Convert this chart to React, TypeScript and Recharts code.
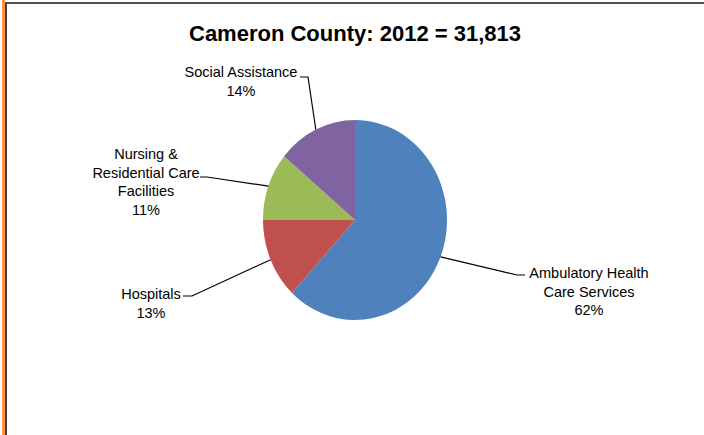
import React from 'react';
import { PieChart, Pie, Cell } from 'recharts';

const categories = [
  'Ambulatory Health\nCare Services',
  'Hospitals',
  'Nursing &\nResidential Care\nFacilities',
  'Social Assistance',
];
const shares = [62, 13, 11, 14];
const colors = ['#4F81BD', '#C0504D', '#9BBB59', '#8064A2'];

const data = categories.map((name, i) => ({ name, value: shares[i] }));

// label placement relative to pie centre: text centre / first line, elbow, tail end
const labelLayout = [
  { tx: 234, ty: 58, ex: 162, ey: 55, endX: 170 },
  { tx: -204, ty: 79, ex: -163, ey: 76, endX: -172 },
  { tx: -209, ty: -61, ex: -148, ey: -43, endX: -155 },
  { tx: -114, ty: -143, ex: -47, ey: -143, endX: -55 },
];

const RAD = Math.PI / 180;
const X_SQUASH = 0.92;
const FONT = '"Liberation Sans", Arial, sans-serif';

const EllipseSector = (props: any) => {
  const { cx, cy, outerRadius, startAngle, endAngle, fill } = props;
  const rx = outerRadius * X_SQUASH;
  const ry = outerRadius;
  const x1 = cx + rx * Math.cos(-startAngle * RAD);
  const y1 = cy + ry * Math.sin(-startAngle * RAD);
  const x2 = cx + rx * Math.cos(-endAngle * RAD);
  const y2 = cy + ry * Math.sin(-endAngle * RAD);
  const large = Math.abs(endAngle - startAngle) > 180 ? 1 : 0;
  const sweep = endAngle < startAngle ? 1 : 0;
  const d = `M${cx},${cy} L${x1},${y1} A${rx},${ry} 0 ${large} ${sweep} ${x2},${y2} Z`;
  return <path d={d} fill={fill} stroke="none" />;
};

const renderLabel = (props: any) => {
  const { cx, cy, midAngle, outerRadius, percent, index, name } = props;
  const lay = labelLayout[index];
  const px = cx + outerRadius * X_SQUASH * Math.cos(-midAngle * RAD);
  const py = cy + outerRadius * Math.sin(-midAngle * RAD);
  const lines = [...String(name).split('\n'), `${Math.round(percent * 100)}%`];
  return (
    <g>
      <polyline
        points={`${px},${py} ${cx + lay.ex},${cy + lay.ey} ${cx + lay.endX},${cy + lay.ey}`}
        fill="none"
        stroke="#000"
        strokeWidth={1.2}
      />
      <text textAnchor="middle" fontFamily={FONT} fontSize={14.5} fill="#000">
        {lines.map((l, i) => (
          <tspan key={i} x={cx + lay.tx} y={cy + lay.ty + i * 18.5}>
            {l}
          </tspan>
        ))}
      </text>
    </g>
  );
};

export default function App() {
  return (
    <div style={{ position: 'absolute', left: 0, top: 0, width: 704, height: 435, background: '#fff', overflow: 'hidden' }}>
      <div style={{ position: 'absolute', left: 2, top: 0, width: 3, height: 435, background: '#F79646' }} />
      <div style={{ position: 'absolute', left: 5, top: 2, width: 1.5, height: 433, background: '#404040' }} />
      <div style={{ position: 'absolute', left: 5, top: 2, width: 699, height: 1.5, background: '#505050' }} />
      <div
        style={{
          position: 'absolute',
          left: 0,
          top: 21,
          width: 710,
          height: 26,
          lineHeight: '26px',
          textAlign: 'center',
          fontFamily: FONT,
          fontWeight: 'bold',
          fontSize: 22,
          color: '#000',
        }}
      >
        Cameron County: 2012 = 31,813
      </div>
      <div style={{ position: 'absolute', left: 0, top: 0 }}>
        <PieChart width={704} height={435} margin={{ top: 0, right: 0, bottom: 0, left: 0 }}>
          <Pie
            data={data}
            dataKey="value"
            nameKey="name"
            cx={355}
            cy={220}
            outerRadius={100}
            startAngle={90}
            endAngle={-270}
            shape={EllipseSector}
            activeShape={EllipseSector}
            label={renderLabel}
            labelLine={false}
            isAnimationActive={false}
          >
            {data.map((_, i) => (
              <Cell key={i} fill={colors[i]} />
            ))}
          </Pie>
        </PieChart>
      </div>
    </div>
  );
}
